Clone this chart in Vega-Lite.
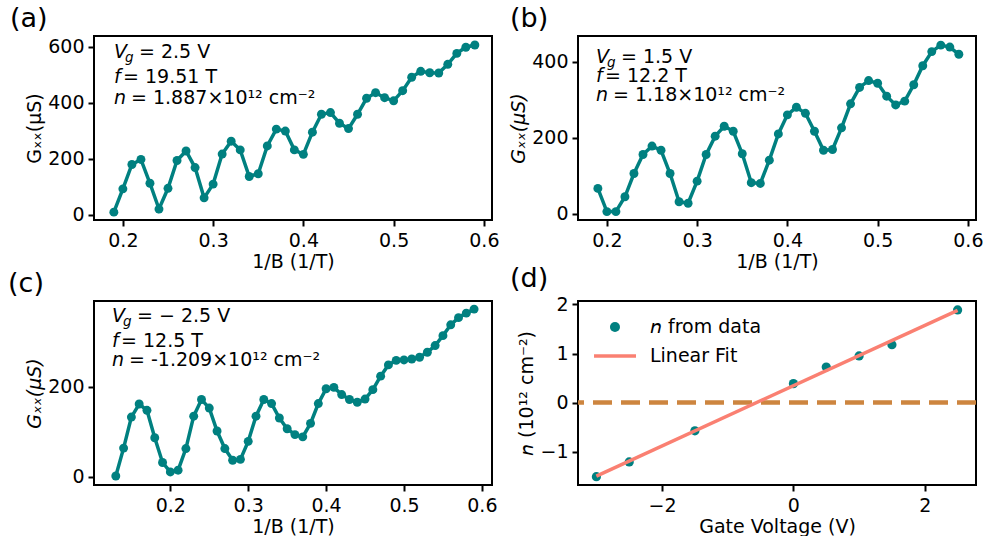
{
  "$schema": "https://vega.github.io/schema/vega-lite/v6.json",
  "background": "white",
  "padding": {"left": 8, "top": 5, "right": 0, "bottom": 0},
  "bounds": "flush",
  "columns": 2,
  "spacing": {"row": 81, "column": 86},
  "config": {
    "font": "DejaVu Sans",
    "view": {"stroke": null},
    "axis": {"domain": false, "grid": false, "tickColor": "black", "tickWidth": 2, "tickSize": 6, "labelFontSize": 19, "labelColor": "black", "labelFont": "DejaVu Sans", "titleFontSize": 19, "titleFont": "DejaVu Sans", "titleFontWeight": "normal", "titleColor": "black", "labelPadding": 4},
    "axisX": {"labelPadding": 5, "titlePadding": 2},
    "axisY": {"titlePadding": 3},
    "title": {"fontSize": 27, "fontWeight": "normal", "font": "DejaVu Sans", "anchor": "start", "frame": "group", "baseline": "bottom", "offset": 2, "color": "black"},
    "text": {"font": "DejaVu Sans", "fontSize": 19, "color": "black", "align": "left", "baseline": "alphabetic"}
  },
  "concat": [
    {
      "width": 398, "height": 184,
      "title": {"text": "(a)", "dx": -84},
      "resolve": {"axis": {"x": "independent", "y": "independent"}},
      "data": {"values": [
        {"x": 0.19, "g": 10}, {"x": 0.20, "g": 93}, {"x": 0.21, "g": 180}, {"x": 0.22, "g": 198}, {"x": 0.23, "g": 113},
        {"x": 0.24, "g": 21}, {"x": 0.25, "g": 95}, {"x": 0.26, "g": 194}, {"x": 0.27, "g": 228}, {"x": 0.28, "g": 169},
        {"x": 0.29, "g": 61}, {"x": 0.30, "g": 110}, {"x": 0.31, "g": 217}, {"x": 0.32, "g": 263}, {"x": 0.33, "g": 232},
        {"x": 0.34, "g": 137}, {"x": 0.35, "g": 147}, {"x": 0.36, "g": 246}, {"x": 0.37, "g": 306}, {"x": 0.38, "g": 299},
        {"x": 0.39, "g": 232}, {"x": 0.40, "g": 216}, {"x": 0.41, "g": 295}, {"x": 0.42, "g": 359}, {"x": 0.43, "g": 365},
        {"x": 0.44, "g": 327}, {"x": 0.45, "g": 308}, {"x": 0.46, "g": 359}, {"x": 0.47, "g": 416}, {"x": 0.48, "g": 436},
        {"x": 0.49, "g": 418}, {"x": 0.50, "g": 407}, {"x": 0.51, "g": 443}, {"x": 0.52, "g": 491}, {"x": 0.53, "g": 512},
        {"x": 0.54, "g": 507}, {"x": 0.55, "g": 506}, {"x": 0.56, "g": 537}, {"x": 0.57, "g": 576}, {"x": 0.58, "g": 598},
        {"x": 0.59, "g": 606}
      ]},
      "layer": [
        {
          "data": {"values": [{"frame": "box"}]},
          "mark": {"type": "rect", "fill": null, "stroke": "black", "strokeWidth": 2},
          "encoding": {"x": {"datum": 0.168, "axis": null}, "x2": {"datum": 0.609}, "y": {"datum": -18, "axis": null}, "y2": {"datum": 638}}
        },
        {
          "mark": {"type": "line", "color": "#008080", "strokeWidth": 3.5},
          "encoding": {
            "x": {"field": "x", "type": "quantitative", "scale": {"domain": [0.168, 0.609], "nice": false, "zero": false}, "axis": {"values": [0.2, 0.3, 0.4, 0.5, 0.6], "format": ".1f", "title": "1/B (1/T)"}},
            "y": {"field": "g", "type": "quantitative", "scale": {"domain": [-18, 638], "nice": false, "zero": false}, "axis": {"values": [0, 200, 400, 600], "title": "Gₓₓ(μS)"}}
          }
        },
        {
          "mark": {"type": "point", "filled": true, "opacity": 1, "size": 80, "color": "#008080"},
          "encoding": {"x": {"field": "x", "type": "quantitative", "axis": null}, "y": {"field": "g", "type": "quantitative", "axis": null}}
        },
        {"data": {"values": [{"t": "V"}]}, "mark": {"type": "text", "fontStyle": "italic"}, "encoding": {"x": {"datum": 0.1902, "axis": null}, "y": {"datum": 559.6, "axis": null}, "text": {"field": "t"}}},
        {"data": {"values": [{"t": "g"}]}, "mark": {"type": "text", "fontStyle": "italic", "fontSize": 13.5, "dx": 11, "dy": 4}, "encoding": {"x": {"datum": 0.1902, "axis": null}, "y": {"datum": 559.6, "axis": null}, "text": {"field": "t"}}},
        {"data": {"values": [{"t": "= 2.5 V"}]}, "mark": {"type": "text", "dx": 25}, "encoding": {"x": {"datum": 0.1902, "axis": null}, "y": {"datum": 559.6, "axis": null}, "text": {"field": "t"}}},
        {"data": {"values": [{"t": "f"}]}, "mark": {"type": "text", "fontStyle": "italic"}, "encoding": {"x": {"datum": 0.1902, "axis": null}, "y": {"datum": 470.4, "axis": null}, "text": {"field": "t"}}},
        {"data": {"values": [{"t": "= 19.51 T"}]}, "mark": {"type": "text", "dx": 9}, "encoding": {"x": {"datum": 0.1902, "axis": null}, "y": {"datum": 470.4, "axis": null}, "text": {"field": "t"}}},
        {"data": {"values": [{"t": "n"}]}, "mark": {"type": "text", "fontStyle": "italic"}, "encoding": {"x": {"datum": 0.1902, "axis": null}, "y": {"datum": 395.6, "axis": null}, "text": {"field": "t"}}},
        {"data": {"values": [{"t": "= 1.887×10¹² cm⁻²"}]}, "mark": {"type": "text", "dx": 17}, "encoding": {"x": {"datum": 0.1902, "axis": null}, "y": {"datum": 395.6, "axis": null}, "text": {"field": "t"}}}
      ]
    },
    {
      "width": 398, "height": 184,
      "title": {"text": "(b)", "dx": -68},
      "resolve": {"axis": {"x": "independent", "y": "independent"}},
      "data": {"values": [
        {"x": 0.19, "g": 67}, {"x": 0.20, "g": 6}, {"x": 0.21, "g": 6}, {"x": 0.22, "g": 45}, {"x": 0.23, "g": 106},
        {"x": 0.24, "g": 156}, {"x": 0.25, "g": 178}, {"x": 0.26, "g": 167}, {"x": 0.27, "g": 106}, {"x": 0.28, "g": 32},
        {"x": 0.29, "g": 28}, {"x": 0.30, "g": 86}, {"x": 0.31, "g": 156}, {"x": 0.32, "g": 204}, {"x": 0.33, "g": 230},
        {"x": 0.34, "g": 217}, {"x": 0.35, "g": 158}, {"x": 0.36, "g": 82}, {"x": 0.37, "g": 80}, {"x": 0.38, "g": 141},
        {"x": 0.39, "g": 210}, {"x": 0.40, "g": 260}, {"x": 0.41, "g": 280}, {"x": 0.42, "g": 264}, {"x": 0.43, "g": 217},
        {"x": 0.44, "g": 167}, {"x": 0.45, "g": 169}, {"x": 0.46, "g": 226}, {"x": 0.47, "g": 289}, {"x": 0.48, "g": 332},
        {"x": 0.49, "g": 350}, {"x": 0.50, "g": 343}, {"x": 0.51, "g": 309}, {"x": 0.52, "g": 286}, {"x": 0.53, "g": 296},
        {"x": 0.54, "g": 339}, {"x": 0.55, "g": 389}, {"x": 0.56, "g": 426}, {"x": 0.57, "g": 443}, {"x": 0.58, "g": 438},
        {"x": 0.59, "g": 419}
      ]},
      "layer": [
        {
          "data": {"values": [{"frame": "box"}]},
          "mark": {"type": "rect", "fill": null, "stroke": "black", "strokeWidth": 2},
          "encoding": {"x": {"datum": 0.168, "axis": null}, "x2": {"datum": 0.609}, "y": {"datum": -16, "axis": null}, "y2": {"datum": 467}}
        },
        {
          "mark": {"type": "line", "color": "#008080", "strokeWidth": 3.5},
          "encoding": {
            "x": {"field": "x", "type": "quantitative", "scale": {"domain": [0.168, 0.609], "nice": false, "zero": false}, "axis": {"values": [0.2, 0.3, 0.4, 0.5, 0.6], "format": ".1f", "title": "1/B (1/T)"}},
            "y": {"field": "g", "type": "quantitative", "scale": {"domain": [-16, 467], "nice": false, "zero": false}, "axis": {"values": [0, 200, 400], "title": "Gₓₓ(μS)", "titleFontStyle": "italic"}}
          }
        },
        {
          "mark": {"type": "point", "filled": true, "opacity": 1, "size": 80, "color": "#008080"},
          "encoding": {"x": {"field": "x", "type": "quantitative", "axis": null}, "y": {"field": "g", "type": "quantitative", "axis": null}}
        },
        {"data": {"values": [{"t": "V"}]}, "mark": {"type": "text", "fontStyle": "italic"}, "encoding": {"x": {"datum": 0.1879, "axis": null}, "y": {"datum": 396, "axis": null}, "text": {"field": "t"}}},
        {"data": {"values": [{"t": "g"}]}, "mark": {"type": "text", "fontStyle": "italic", "fontSize": 13.5, "dx": 11, "dy": 4}, "encoding": {"x": {"datum": 0.1879, "axis": null}, "y": {"datum": 396, "axis": null}, "text": {"field": "t"}}},
        {"data": {"values": [{"t": "= 1.5 V"}]}, "mark": {"type": "text", "dx": 25}, "encoding": {"x": {"datum": 0.1879, "axis": null}, "y": {"datum": 396, "axis": null}, "text": {"field": "t"}}},
        {"data": {"values": [{"t": "f"}]}, "mark": {"type": "text", "fontStyle": "italic"}, "encoding": {"x": {"datum": 0.1879, "axis": null}, "y": {"datum": 346.2, "axis": null}, "text": {"field": "t"}}},
        {"data": {"values": [{"t": "= 12.2 T"}]}, "mark": {"type": "text", "dx": 9}, "encoding": {"x": {"datum": 0.1879, "axis": null}, "y": {"datum": 346.2, "axis": null}, "text": {"field": "t"}}},
        {"data": {"values": [{"t": "n"}]}, "mark": {"type": "text", "fontStyle": "italic"}, "encoding": {"x": {"datum": 0.1879, "axis": null}, "y": {"datum": 296.4, "axis": null}, "text": {"field": "t"}}},
        {"data": {"values": [{"t": "= 1.18×10¹² cm⁻²"}]}, "mark": {"type": "text", "dx": 17}, "encoding": {"x": {"datum": 0.1879, "axis": null}, "y": {"datum": 296.4, "axis": null}, "text": {"field": "t"}}}
      ]
    },
    {
      "width": 398, "height": 184,
      "title": {"text": "(c)", "dx": -86},
      "resolve": {"axis": {"x": "independent", "y": "independent"}},
      "data": {"values": [
        {"x": 0.13, "g": 2}, {"x": 0.14, "g": 64}, {"x": 0.15, "g": 133}, {"x": 0.16, "g": 162}, {"x": 0.17, "g": 148},
        {"x": 0.18, "g": 87}, {"x": 0.19, "g": 32}, {"x": 0.20, "g": 11}, {"x": 0.21, "g": 15}, {"x": 0.22, "g": 63},
        {"x": 0.23, "g": 135}, {"x": 0.24, "g": 172}, {"x": 0.25, "g": 153}, {"x": 0.26, "g": 102}, {"x": 0.27, "g": 63},
        {"x": 0.28, "g": 37}, {"x": 0.29, "g": 39}, {"x": 0.30, "g": 79}, {"x": 0.31, "g": 135}, {"x": 0.32, "g": 172},
        {"x": 0.33, "g": 163}, {"x": 0.34, "g": 131}, {"x": 0.35, "g": 107}, {"x": 0.36, "g": 94}, {"x": 0.37, "g": 89},
        {"x": 0.38, "g": 119}, {"x": 0.39, "g": 163}, {"x": 0.40, "g": 196}, {"x": 0.41, "g": 199}, {"x": 0.42, "g": 183},
        {"x": 0.43, "g": 172}, {"x": 0.44, "g": 166}, {"x": 0.45, "g": 173}, {"x": 0.46, "g": 194}, {"x": 0.47, "g": 224},
        {"x": 0.48, "g": 249}, {"x": 0.49, "g": 259}, {"x": 0.50, "g": 260}, {"x": 0.51, "g": 262}, {"x": 0.52, "g": 266},
        {"x": 0.53, "g": 277}, {"x": 0.54, "g": 292}, {"x": 0.55, "g": 314}, {"x": 0.56, "g": 338}, {"x": 0.57, "g": 354},
        {"x": 0.58, "g": 364}, {"x": 0.59, "g": 373}
      ]},
      "layer": [
        {
          "data": {"values": [{"frame": "box"}]},
          "mark": {"type": "rect", "fill": null, "stroke": "black", "strokeWidth": 2},
          "encoding": {"x": {"datum": 0.102, "axis": null}, "x2": {"datum": 0.613}, "y": {"datum": -18, "axis": null}, "y2": {"datum": 391}}
        },
        {
          "mark": {"type": "line", "color": "#008080", "strokeWidth": 3.5},
          "encoding": {
            "x": {"field": "x", "type": "quantitative", "scale": {"domain": [0.102, 0.613], "nice": false, "zero": false}, "axis": {"values": [0.2, 0.3, 0.4, 0.5, 0.6], "format": ".1f", "title": "1/B (1/T)"}},
            "y": {"field": "g", "type": "quantitative", "scale": {"domain": [-18, 391], "nice": false, "zero": false}, "axis": {"values": [0, 200], "title": "Gₓₓ(μS)", "titleFontStyle": "italic"}}
          }
        },
        {
          "mark": {"type": "point", "filled": true, "opacity": 1, "size": 80, "color": "#008080"},
          "encoding": {"x": {"field": "x", "type": "quantitative", "axis": null}, "y": {"field": "g", "type": "quantitative", "axis": null}}
        },
        {"data": {"values": [{"t": "V"}]}, "mark": {"type": "text", "fontStyle": "italic"}, "encoding": {"x": {"datum": 0.1251, "axis": null}, "y": {"datum": 344.3, "axis": null}, "text": {"field": "t"}}},
        {"data": {"values": [{"t": "g"}]}, "mark": {"type": "text", "fontStyle": "italic", "fontSize": 13.5, "dx": 11, "dy": 4}, "encoding": {"x": {"datum": 0.1251, "axis": null}, "y": {"datum": 344.3, "axis": null}, "text": {"field": "t"}}},
        {"data": {"values": [{"t": "=  − 2.5 V"}]}, "mark": {"type": "text", "dx": 25}, "encoding": {"x": {"datum": 0.1251, "axis": null}, "y": {"datum": 344.3, "axis": null}, "text": {"field": "t"}}},
        {"data": {"values": [{"t": "f"}]}, "mark": {"type": "text", "fontStyle": "italic"}, "encoding": {"x": {"datum": 0.1251, "axis": null}, "y": {"datum": 288.7, "axis": null}, "text": {"field": "t"}}},
        {"data": {"values": [{"t": "= 12.5 T"}]}, "mark": {"type": "text", "dx": 9}, "encoding": {"x": {"datum": 0.1251, "axis": null}, "y": {"datum": 288.7, "axis": null}, "text": {"field": "t"}}},
        {"data": {"values": [{"t": "n"}]}, "mark": {"type": "text", "fontStyle": "italic"}, "encoding": {"x": {"datum": 0.1251, "axis": null}, "y": {"datum": 246.5, "axis": null}, "text": {"field": "t"}}},
        {"data": {"values": [{"t": "= -1.209×10¹² cm⁻²"}]}, "mark": {"type": "text", "dx": 17}, "encoding": {"x": {"datum": 0.1251, "axis": null}, "y": {"datum": 246.5, "axis": null}, "text": {"field": "t"}}}
      ]
    },
    {
      "width": 398, "height": 184,
      "title": {"text": "(d)", "dx": -68},
      "resolve": {"axis": {"x": "independent", "y": "independent"}},
      "layer": [
        {
          "data": {"values": [{"frame": "box"}]},
          "mark": {"type": "rect", "fill": null, "stroke": "black", "strokeWidth": 2},
          "encoding": {"x": {"datum": -3.28, "axis": null}, "x2": {"datum": 2.78}, "y": {"datum": -1.68, "axis": null}, "y2": {"datum": 2.07}}
        },
        {
          "data": {"values": [{"n": 0}]},
          "mark": {"type": "rule", "color": "#CD853F", "strokeWidth": 4.5, "strokeDash": [19, 9]},
          "encoding": {"y": {"field": "n", "type": "quantitative", "axis": null}}
        },
        {
          "data": {"values": [
            {"vg": -3, "n": -1.51}, {"vg": -2.5, "n": -1.209}, {"vg": -1.5, "n": -0.576},
            {"vg": 0, "n": 0.386}, {"vg": 0.5, "n": 0.725}, {"vg": 1, "n": 0.95},
            {"vg": 1.5, "n": 1.18}, {"vg": 2.5, "n": 1.887}
          ]},
          "mark": {"type": "point", "filled": true, "opacity": 1, "size": 85, "color": "#008080"},
          "encoding": {
            "x": {"field": "vg", "type": "quantitative", "scale": {"domain": [-3.28, 2.78], "nice": false, "zero": false}, "axis": {"values": [-2, 0, 2], "title": "Gate Voltage (V)"}},
            "y": {"field": "n", "type": "quantitative", "scale": {"domain": [-1.68, 2.07], "nice": false, "zero": false}, "axis": {"values": [-1, 0, 1, 2], "title": "𝘯 (10¹² cm⁻²)"}}
          }
        },
        {
          "data": {"values": [{"vg": -3, "n": -1.498}, {"vg": 2.5, "n": 1.879}]},
          "mark": {"type": "line", "strokeWidth": 3.5, "color": "#FA8072"},
          "encoding": {"x": {"field": "vg", "type": "quantitative", "axis": null}, "y": {"field": "n", "type": "quantitative", "axis": null}}
        },
        {
          "data": {"values": [{"s": "𝘯 from data"}]},
          "mark": {"type": "point", "filled": true, "opacity": 1, "size": 100, "color": "#008080"},
          "encoding": {"x": {"datum": -2.717, "axis": null}, "y": {"datum": 1.54, "axis": null}}
        },
        {
          "data": {"values": [{"s": "Linear Fit"}]},
          "mark": {"type": "rule", "strokeWidth": 3.5, "color": "#FA8072"},
          "encoding": {"x": {"datum": -3.036, "axis": null}, "x2": {"datum": -2.397}, "y": {"datum": 0.949, "axis": null}}
        },
        {
          "data": {"values": [{"s": "𝘯 from data"}]},
          "mark": {"type": "text", "baseline": "middle"},
          "encoding": {"x": {"datum": -2.184, "axis": null}, "y": {"datum": 1.54, "axis": null}, "text": {"field": "s"}}
        },
        {
          "data": {"values": [{"s": "Linear Fit"}]},
          "mark": {"type": "text", "baseline": "middle"},
          "encoding": {"x": {"datum": -2.184, "axis": null}, "y": {"datum": 0.949, "axis": null}, "text": {"field": "s"}}
        }
      ]
    }
  ]
}
